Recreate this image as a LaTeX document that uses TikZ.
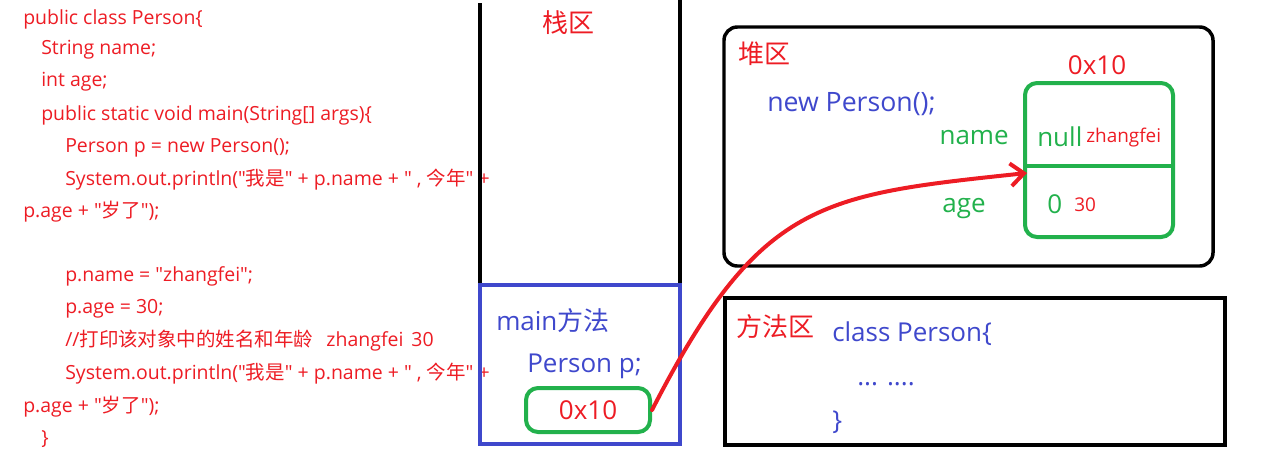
\documentclass[tikz,border=0pt]{standalone}
\usepackage{fontspec}
\setmainfont{Open Sans}
\newfontfamily\latin{Open Sans}
\newfontfamily\cjk{Noto Sans CJK SC}
\newcommand{\zh}[1]{{\cjk #1}}
\usepackage{tikz}
\usetikzlibrary{arrows.meta}
\definecolor{pred}{HTML}{ED1C24}
\definecolor{pgreen}{HTML}{22B14C}
\definecolor{pblue}{HTML}{3F48CC}
\tikzset{
  code/.style={anchor=west, inner sep=0pt, text=pred, font=\latin\fontsize{14.6}{16}\selectfont},
  lbl/.style={inner sep=0pt, font=\latin\fontsize{19.5}{22}\selectfont},
  small/.style={inner sep=0pt, text=pred, font=\latin\fontsize{14.2}{15}\selectfont},
  frame/.style={draw=black, line width=2.6pt},
  slot/.style={draw=pgreen, line width=3pt, rounded corners=9pt},
  refarr/.style={-{Straight Barb[length=10pt,width=17pt]}, draw=pred, line width=3pt, line cap=round}
}

\begin{document}
\begin{tikzpicture}[x=0.75pt, y=-0.75pt]
\useasboundingbox (0,0) rectangle (1276,451);
% source code
\node[code] (c1) at (23,19) {public class Person\{};
\node[code] (c2) at (41,50) {String name;};
\node[code] (c3) at (41,82) {int age;};
\node[code] (c4) at (41,115) {public static void main(String[] args)\{};
\node[code] (c5) at (65,148) {Person p = new Person();};
\node[code] (c6) at (65,180) {System.out.println("\zh{我是}" + p.name + " , \zh{今年}" +};
\node[code] (c7) at (23,212) {p.age + "\zh{岁了}");};
\node[code] (c8) at (65,276) {p.name = "zhangfei";};
\node[code] (c9) at (65,309) {p.age = 30;};
\node[code] (c10) at (65,341) {//\zh{打印该对象中的姓名和年龄}\hspace{10pt}zhangfei\hspace{6pt}30};
\node[code] (c11) at (65,374) {System.out.println("\zh{我是}" + p.name + " , \zh{今年}" +};
\node[code] (c12) at (23,407) {p.age + "\zh{岁了}");};
\node[code] (c13) at (41,439) {\}};

% stack
\draw[frame] (480,3) -- (480,445);
\draw[frame] (680,0) -- (680,445);
\draw[draw=pblue, line width=3pt] (480,285) rectangle (680,444);
\node[lbl, text=pred] (stackT) at (568,23) {\zh{栈区}};
\node[lbl, text=pblue, anchor=west] (mainL) at (496,321) {main\zh{方法}};
\node[lbl, text=pblue, anchor=west] (pdecl) at (527,366) {Person p;};
\node[slot, minimum width=93pt, minimum height=33pt, text=pred, lbl] (ptr) at (588,410) {0x10};

% heap
\draw[frame, rounded corners=10pt] (724,27) rectangle (1213,266);
\node[lbl, text=pred, anchor=west] (heapT) at (738,54) {\zh{堆区}};
\node[lbl, text=pblue, anchor=west] (newP) at (767,104) {\fontsize{20}{22}\selectfont new Person();};
\node[lbl, text=pred] (addr) at (1097,65) {0x10};
\draw[slot] (1025,83) rectangle (1173,237);
\draw[draw=pgreen, line width=3pt] (1025,166) -- (1173,166);
\node[lbl, text=pgreen, anchor=east] (nameL) at (1009,138) {name};
\node[lbl, text=pgreen, anchor=west] (nullV) at (1037,137) {null};
\node[small, anchor=west] (zfV) at (1086,138) {zhangfei};
\node[lbl, text=pgreen] (ageL) at (964,209) {age};
\node[lbl, text=pgreen, anchor=west] (zeroV) at (1047,204) {0};
\node[small, anchor=west] (thirtyV) at (1074,205) {30};
\coordinate (objin) at (1027,173);

% method area
\draw[frame, line width=3.4pt] (725,298) rectangle (1225,445);
\node[lbl, text=pred, anchor=west] (methT) at (736,327) {\zh{方法区}};
\node[lbl, text=pblue, anchor=west] (cls) at (832,334) {class Person\{};
\node[lbl, text=pblue, anchor=west] (dots) at (857,384) {... ....};
\node[lbl, text=pblue, anchor=west] (clsEnd) at (832,422) {\}};

\draw[refarr] (ptr.east) .. controls (760,200) and (820,195) .. (objin);
\end{tikzpicture}
\end{document}
